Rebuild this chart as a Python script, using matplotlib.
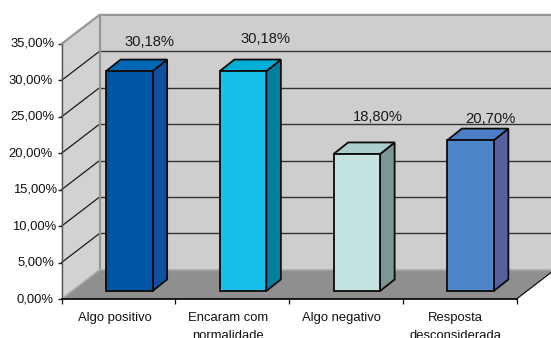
import matplotlib
matplotlib.use('Agg')
import matplotlib.pyplot as plt
from matplotlib.patches import Polygon

plt.rcParams['font.family'] = ['Liberation Sans', 'DejaVu Sans']

categories = ['Algo positivo', 'Encaram com\nnormalidade', 'Algo negativo', 'Resposta\ndesconsiderada']
values = [30.18, 30.18, 18.80, 20.70]
value_labels = ['30,18%', '30,18%', '18,80%', '20,70%']
ticks = [0, 5, 10, 15, 20, 25, 30, 35]
tick_labels = ['0,00%', '5,00%', '10,00%', '15,00%', '20,00%', '25,00%', '30,00%', '35,00%']

front_colors = ['#0054A6', '#17C0EA', '#C3E2E0', '#4C86C8']
top_colors = ['#0068B4', '#00AFD6', '#ABCFCC', '#4E7FC4']
side_colors = ['#1150A0', '#007F9E', '#7B9695', '#56609F']

# small sideways nudges of the labels, in pixels
tick_shift = [-1, 0, 2, 3, -2, 0, -2, 0]
tick_rise = [-1, 0, 0, 0, 0, 0, 0, 0]
value_shift = [(20, 29), (22, 32), (21, 37), (20, 21)]

W, H = 551, 338
x0, x1, y0, y1 = 61.5, 516.5, 299, 44

# depth of the box and of the bars, in data units
depth_x, depth_y = 38 / 113.75, 29 / 7.26
floor_x, floor_y = 11 / 113.75, 8 / 7.26
bar_w = 46.5 / 113.75
bar_dx, bar_dy = 14.5 / 113.75, 11.5 / 7.26

fig = plt.figure(figsize=(W / 100, H / 100), dpi=100)
ax = fig.add_axes([x0 / W, 1 - y0 / H, (x1 - x0) / W, (y0 - y1) / H])
ax.set_xlim(0, 4)
ax.set_ylim(0, 35)
ax.patch.set_visible(False)
for s in ax.spines.values():
    s.set_visible(False)


def poly(points, color, edge='none', lw=0, z=1):
    ax.add_patch(Polygon(points, closed=True, facecolor=color, edgecolor=edge,
                         linewidth=lw, zorder=z, clip_on=False, joinstyle='miter'))


# walls and floor
poly([(depth_x, depth_y), (4 + depth_x, depth_y), (4 + depth_x, 35 + depth_y), (depth_x, 35 + depth_y)], '#CECECE')
poly([(0, 0), (depth_x, depth_y), (depth_x, 35 + depth_y), (0, 35)], '#D2D2D2')
poly([(0, 0), (4, 0), (4 + depth_x, depth_y), (depth_x, depth_y)], '#8F8F8F')

# gridlines along the side wall and the back wall
for t in ticks[1:-1]:
    ax.plot([0, depth_x], [t, t + depth_y], color='#1A1A1A', lw=0.9, zorder=2, clip_on=False)
    ax.plot([depth_x, 4 + depth_x], [t + depth_y, t + depth_y], color='#333333', lw=1.0, zorder=2, clip_on=False)

# wall outlines
ax.plot([0, depth_x, 4 + depth_x], [35, 35 + depth_y, 35 + depth_y], color='#969696', lw=1.6, zorder=2, clip_on=False)
ax.plot([depth_x, depth_x], [depth_y, 35 + depth_y], color='#969696', lw=1.6, zorder=2, clip_on=False)
ax.plot([depth_x, 4 + depth_x], [depth_y, depth_y], color='#AAAAAA', lw=1.2, zorder=2, clip_on=False)
ax.plot([0, depth_x], [0, depth_y], color='#AAAAAA', lw=1.0, zorder=2, clip_on=False)
ax.plot([4, 4 + depth_x], [0, depth_y], color='#111111', lw=0.9, zorder=2, clip_on=False)

# bars
for i, v in enumerate(values):
    left = i + 0.5 + floor_x - bar_w / 2
    right = left + bar_w
    base = floor_y
    top = base + v
    poly([(right, base), (right + bar_dx, base + bar_dy), (right + bar_dx, top + bar_dy), (right, top)],
         side_colors[i], '#0A0A0A', 1.3, 3)
    poly([(left, top), (right, top), (right + bar_dx, top + bar_dy), (left + bar_dx, top + bar_dy)],
         top_colors[i], '#0A0A0A', 1.3, 3)
    poly([(left, base), (right, base), (right, top), (left, top)],
         front_colors[i], '#0A0A0A', 1.3, 4)
    ax.annotate(value_labels[i], (left + bar_w / 2, top), xytext=value_shift[i], textcoords='offset pixels',
                ha='center', va='center', fontsize=10.6, color='#1A1A1A', zorder=5, annotation_clip=False)

# axis lines and ticks
ax.plot([0, 0], [0, 35], color='#555555', lw=1.0, zorder=6, clip_on=False)
ax.plot([0, 4], [0, 0], color='#000000', lw=1.2, zorder=6, clip_on=False)
ax.set_xticks(range(5))
ax.set_xticklabels([])
ax.set_yticks(ticks)
ax.set_yticklabels([])
ax.tick_params(axis='x', length=3.5, width=0.9, color='#111111')
ax.tick_params(axis='y', length=3, width=1.0, color='#222222')

for t, lab, dx, dy in zip(ticks, tick_labels, tick_shift, tick_rise):
    ax.annotate(lab, (0, t), xytext=(-7 + dx, dy), textcoords='offset pixels', ha='right', va='center',
                fontsize=9.4, color='#111111', annotation_clip=False)

for i, lab in enumerate(categories):
    ax.annotate(lab, (i + 0.5, 0), xytext=(-4, -13), textcoords='offset pixels', ha='center', va='top',
                fontsize=9.4, color='#111111', linespacing=1.65, annotation_clip=False)

fig.savefig('out.png', dpi=100, facecolor='white')
